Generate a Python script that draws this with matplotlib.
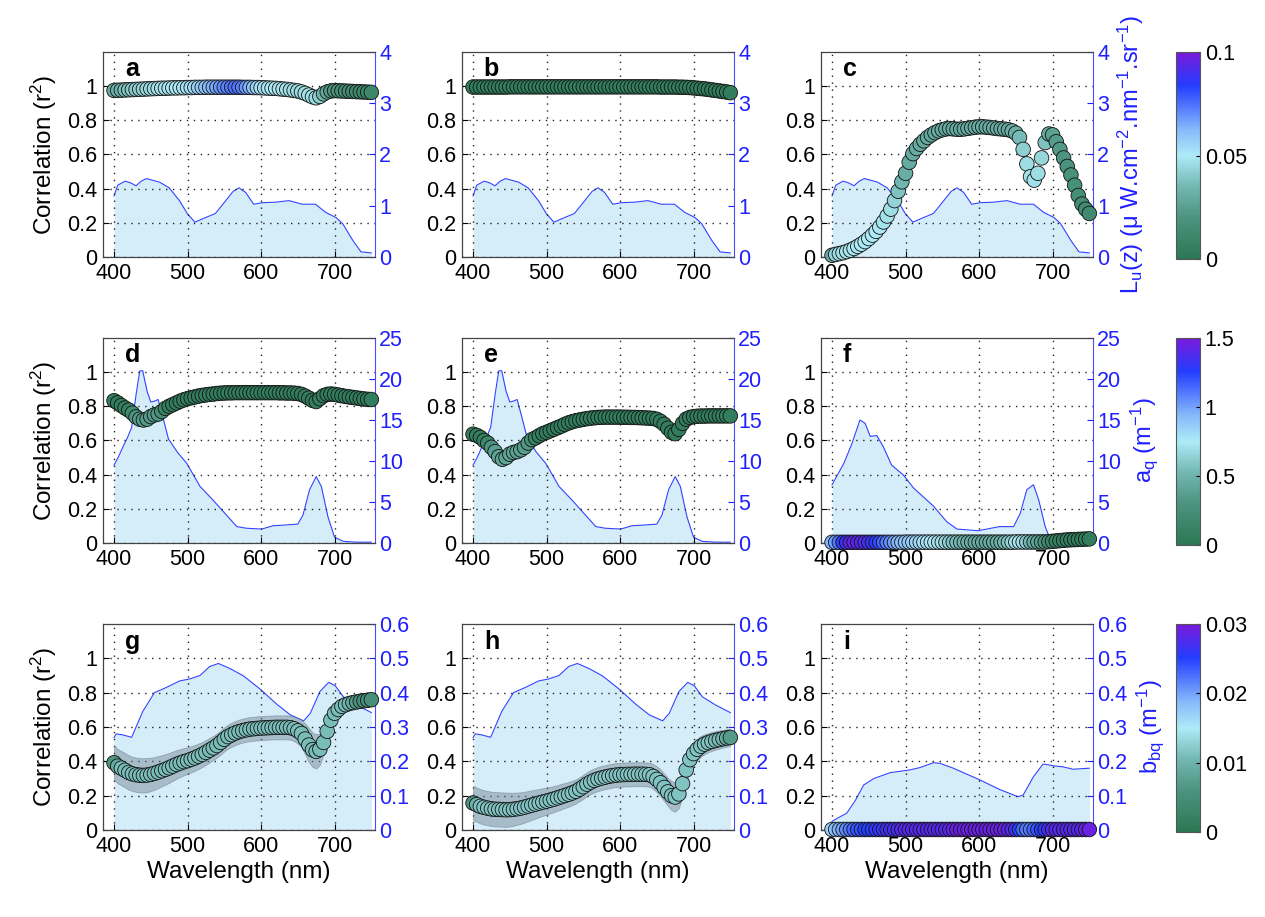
import numpy as np
import matplotlib
matplotlib.use('Agg')
import matplotlib.pyplot as plt
from matplotlib.colors import LinearSegmentedColormap, Normalize
from matplotlib.cm import ScalarMappable

plt.rcParams['font.family'] = ['Liberation Sans', 'DejaVu Sans']
plt.rcParams['mathtext.fontset'] = 'custom'
plt.rcParams['mathtext.rm'] = 'Liberation Sans'
plt.rcParams['mathtext.it'] = 'Liberation Sans'

# wavelength grid of the correlation points (nm)
wl = np.arange(400, 751, 5)

# ---- correlation (r2) per panel, 400..750 nm every 5 nm ----
r2_a = [0.975, 0.976, 0.977, 0.978, 0.979, 0.980, 0.981, 0.982, 0.983, 0.984,
        0.985, 0.986, 0.987, 0.988, 0.988, 0.989, 0.990, 0.990, 0.991, 0.991,
        0.992, 0.992, 0.993, 0.993, 0.993, 0.994, 0.994, 0.994, 0.994, 0.994,
        0.994, 0.994, 0.994, 0.994, 0.994, 0.993, 0.993, 0.993, 0.992, 0.992,
        0.991, 0.990, 0.989, 0.988, 0.987, 0.985, 0.983, 0.981, 0.978, 0.975,
        0.972, 0.966, 0.958, 0.948, 0.938, 0.932, 0.940, 0.955, 0.966, 0.972,
        0.974, 0.973, 0.972, 0.971, 0.970, 0.969, 0.968, 0.967, 0.966, 0.965,
        0.964]
r2_b = [0.995, 0.995, 0.995, 0.995, 0.995, 0.995, 0.995, 0.995, 0.995, 0.995,
        0.996, 0.996, 0.996, 0.996, 0.996, 0.996, 0.996, 0.996, 0.996, 0.996,
        0.996, 0.996, 0.996, 0.996, 0.996, 0.996, 0.996, 0.996, 0.996, 0.996,
        0.996, 0.996, 0.996, 0.996, 0.996, 0.996, 0.996, 0.996, 0.996, 0.996,
        0.996, 0.996, 0.996, 0.996, 0.996, 0.996, 0.996, 0.996, 0.996, 0.996,
        0.996, 0.995, 0.995, 0.995, 0.995, 0.995, 0.994, 0.994, 0.993, 0.992,
        0.990, 0.988, 0.986, 0.984, 0.981, 0.978, 0.975, 0.972, 0.969, 0.966,
        0.962]
r2_c = [0.010, 0.015, 0.020, 0.025, 0.032, 0.040, 0.050, 0.062, 0.075, 0.090,
        0.108, 0.128, 0.150, 0.175, 0.205, 0.240, 0.280, 0.330, 0.385, 0.440,
        0.490, 0.555, 0.605, 0.635, 0.660, 0.680, 0.700, 0.715, 0.728, 0.738,
        0.745, 0.750, 0.752, 0.750, 0.748, 0.748, 0.750, 0.753, 0.757, 0.760,
        0.762, 0.762, 0.760, 0.758, 0.755, 0.752, 0.750, 0.748, 0.745, 0.738,
        0.725, 0.700, 0.630, 0.545, 0.470, 0.450, 0.490, 0.580, 0.670, 0.720,
        0.715, 0.675, 0.630, 0.580, 0.530, 0.480, 0.420, 0.360, 0.310, 0.280,
        0.255]
r2_d = [0.833, 0.820, 0.805, 0.790, 0.778, 0.760, 0.738, 0.725, 0.720, 0.725,
        0.740, 0.750, 0.755, 0.770, 0.788, 0.800, 0.810, 0.820, 0.830, 0.838,
        0.845, 0.850, 0.855, 0.860, 0.864, 0.867, 0.870, 0.872, 0.875, 0.877,
        0.878, 0.879, 0.879, 0.880, 0.880, 0.880, 0.880, 0.880, 0.880, 0.880,
        0.880, 0.880, 0.880, 0.880, 0.880, 0.879, 0.879, 0.878, 0.878, 0.877,
        0.875, 0.870, 0.860, 0.848, 0.835, 0.828, 0.845, 0.862, 0.870, 0.872,
        0.870, 0.866, 0.862, 0.858, 0.855, 0.852, 0.849, 0.846, 0.843, 0.841,
        0.840]
r2_e = [0.637, 0.630, 0.618, 0.600, 0.585, 0.560, 0.535, 0.505, 0.490, 0.500,
        0.520, 0.530, 0.535, 0.545, 0.560, 0.585, 0.605, 0.615, 0.628, 0.640,
        0.648, 0.657, 0.666, 0.675, 0.684, 0.694, 0.703, 0.710, 0.716, 0.720,
        0.724, 0.728, 0.731, 0.733, 0.735, 0.736, 0.737, 0.737, 0.737, 0.737,
        0.737, 0.736, 0.736, 0.735, 0.735, 0.734, 0.733, 0.732, 0.731, 0.729,
        0.724, 0.712, 0.695, 0.672, 0.648, 0.640, 0.665, 0.700, 0.725, 0.735,
        0.740, 0.742, 0.743, 0.743, 0.744, 0.744, 0.744, 0.744, 0.744, 0.744,
        0.744]
r2_f = [0.004, 0.004, 0.004, 0.004, 0.004, 0.004, 0.004, 0.004, 0.004, 0.004,
        0.004, 0.004, 0.004, 0.004, 0.004, 0.004, 0.004, 0.004, 0.004, 0.004,
        0.005, 0.005, 0.005, 0.005, 0.005, 0.005, 0.005, 0.005, 0.005, 0.005,
        0.005, 0.005, 0.005, 0.005, 0.005, 0.005, 0.005, 0.005, 0.005, 0.005,
        0.005, 0.005, 0.005, 0.005, 0.005, 0.005, 0.005, 0.005, 0.005, 0.005,
        0.006, 0.006, 0.006, 0.006, 0.006, 0.006, 0.006, 0.006, 0.006, 0.008,
        0.010, 0.012, 0.014, 0.016, 0.018, 0.019, 0.020, 0.021, 0.022, 0.023,
        0.024]
r2_g = [0.392, 0.372, 0.360, 0.348, 0.335, 0.327, 0.322, 0.319, 0.318, 0.320,
        0.324, 0.330, 0.337, 0.345, 0.353, 0.362, 0.372, 0.382, 0.390, 0.398,
        0.404, 0.412, 0.420, 0.430, 0.440, 0.452, 0.465, 0.478, 0.492, 0.510,
        0.528, 0.544, 0.555, 0.565, 0.573, 0.579, 0.584, 0.588, 0.590, 0.592,
        0.594, 0.595, 0.596, 0.597, 0.598, 0.598, 0.598, 0.598, 0.596, 0.590,
        0.578, 0.562, 0.530, 0.495, 0.468, 0.458, 0.470, 0.510, 0.575, 0.640,
        0.680, 0.702, 0.720, 0.730, 0.737, 0.742, 0.746, 0.750, 0.753, 0.756,
        0.759]
r2_h = [0.157, 0.148, 0.138, 0.132, 0.127, 0.123, 0.121, 0.120, 0.119, 0.118,
        0.119, 0.121, 0.124, 0.128, 0.133, 0.139, 0.145, 0.151, 0.157, 0.163,
        0.168, 0.174, 0.180, 0.187, 0.194, 0.201, 0.208, 0.216, 0.225, 0.238,
        0.252, 0.267, 0.279, 0.289, 0.297, 0.303, 0.308, 0.313, 0.317, 0.320,
        0.322, 0.323, 0.324, 0.324, 0.325, 0.325, 0.325, 0.324, 0.322, 0.312,
        0.295, 0.275, 0.248, 0.222, 0.200, 0.192, 0.210, 0.270, 0.350, 0.410,
        0.445, 0.470, 0.488, 0.500, 0.509, 0.516, 0.522, 0.527, 0.532, 0.536,
        0.539]
r2_i = [0.003, 0.003, 0.003, 0.003, 0.003, 0.003, 0.003, 0.003, 0.003, 0.003,
        0.003, 0.003, 0.003, 0.003, 0.003, 0.003, 0.003, 0.003, 0.003, 0.003,
        0.003, 0.003, 0.003, 0.003, 0.003, 0.003, 0.003, 0.003, 0.003, 0.003,
        0.003, 0.003, 0.003, 0.003, 0.003, 0.003, 0.003, 0.003, 0.003, 0.003,
        0.003, 0.003, 0.003, 0.003, 0.003, 0.003, 0.003, 0.003, 0.003, 0.003,
        0.003, 0.003, 0.003, 0.003, 0.003, 0.003, 0.003, 0.003, 0.003, 0.003,
        0.003, 0.003, 0.003, 0.003, 0.003, 0.003, 0.003, 0.003, 0.003, 0.003,
        0.003]

# ---- colour value of each point (colorbar units) ----
col_a = [0.030, 0.032, 0.034, 0.036, 0.038, 0.040, 0.041, 0.042, 0.043, 0.044,
         0.045, 0.046, 0.047, 0.048, 0.048, 0.049, 0.049, 0.050, 0.050, 0.051,
         0.052, 0.053, 0.054, 0.056, 0.058, 0.060, 0.062, 0.064, 0.066, 0.068,
         0.070, 0.072, 0.074, 0.075, 0.074, 0.072, 0.068, 0.064, 0.060, 0.056,
         0.053, 0.052, 0.051, 0.050, 0.050, 0.049, 0.048, 0.048, 0.047, 0.046,
         0.045, 0.045, 0.046, 0.047, 0.047, 0.046, 0.042, 0.035, 0.028, 0.022,
         0.020, 0.018, 0.017, 0.016, 0.015, 0.014, 0.013, 0.012, 0.011, 0.010,
         0.010]
col_b = [0.004, 0.004, 0.004, 0.004, 0.004, 0.004, 0.004, 0.004, 0.004, 0.004,
         0.004, 0.004, 0.004, 0.004, 0.004, 0.004, 0.004, 0.004, 0.004, 0.004,
         0.004, 0.004, 0.004, 0.004, 0.004, 0.004, 0.004, 0.004, 0.004, 0.004,
         0.004, 0.004, 0.004, 0.004, 0.004, 0.004, 0.004, 0.004, 0.004, 0.004,
         0.004, 0.004, 0.004, 0.004, 0.004, 0.004, 0.004, 0.004, 0.004, 0.004,
         0.004, 0.004, 0.004, 0.004, 0.004, 0.004, 0.004, 0.004, 0.004, 0.004,
         0.004, 0.004, 0.004, 0.004, 0.004, 0.004, 0.004, 0.004, 0.004, 0.004,
         0.004]
col_c = [0.030, 0.044, 0.046, 0.047, 0.048, 0.048, 0.049, 0.049, 0.050, 0.050,
         0.050, 0.050, 0.050, 0.049, 0.048, 0.047, 0.046, 0.043, 0.038, 0.034,
         0.031, 0.030, 0.030, 0.030, 0.030, 0.029, 0.029, 0.029, 0.029, 0.030,
         0.030, 0.030, 0.030, 0.030, 0.030, 0.030, 0.030, 0.030, 0.030, 0.030,
         0.030, 0.030, 0.030, 0.030, 0.030, 0.030, 0.030, 0.030, 0.030, 0.031,
         0.032, 0.036, 0.042, 0.046, 0.047, 0.047, 0.046, 0.044, 0.038, 0.030,
         0.026, 0.024, 0.022, 0.020, 0.019, 0.018, 0.017, 0.016, 0.015, 0.014,
         0.013]
col_d = [0.06, 0.06, 0.07, 0.08, 0.10, 0.20, 0.30, 0.34, 0.35, 0.35,
         0.35, 0.34, 0.32, 0.25, 0.15, 0.08, 0.06, 0.06, 0.06, 0.06,
         0.06, 0.06, 0.06, 0.06, 0.06, 0.06, 0.06, 0.06, 0.06, 0.06,
         0.06, 0.06, 0.06, 0.06, 0.06, 0.06, 0.06, 0.06, 0.06, 0.06,
         0.06, 0.06, 0.06, 0.06, 0.06, 0.06, 0.06, 0.06, 0.06, 0.06,
         0.06, 0.06, 0.06, 0.06, 0.06, 0.06, 0.06, 0.06, 0.06, 0.06,
         0.06, 0.06, 0.06, 0.06, 0.06, 0.06, 0.06, 0.06, 0.06, 0.06,
         0.06]
col_e = [0.06, 0.06, 0.06, 0.08, 0.15, 0.30, 0.38, 0.40, 0.40, 0.40,
         0.40, 0.40, 0.39, 0.38, 0.36, 0.32, 0.25, 0.12, 0.07, 0.06,
         0.06, 0.06, 0.06, 0.06, 0.06, 0.06, 0.06, 0.06, 0.06, 0.06,
         0.06, 0.06, 0.06, 0.06, 0.06, 0.06, 0.06, 0.06, 0.06, 0.06,
         0.06, 0.06, 0.06, 0.06, 0.06, 0.06, 0.06, 0.06, 0.06, 0.06,
         0.06, 0.06, 0.06, 0.06, 0.06, 0.06, 0.06, 0.06, 0.06, 0.06,
         0.06, 0.06, 0.06, 0.06, 0.06, 0.06, 0.06, 0.06, 0.06, 0.06,
         0.06]
col_f = [0.95, 1.00, 1.10, 1.25, 1.35, 1.40, 1.42, 1.42, 1.40, 1.38,
         1.35, 1.32, 1.28, 1.22, 1.15, 1.10, 1.05, 1.00, 0.95, 0.92,
         0.90, 0.88, 0.86, 0.84, 0.82, 0.80, 0.78, 0.76, 0.74, 0.72,
         0.70, 0.66, 0.62, 0.58, 0.55, 0.52, 0.50, 0.48, 0.47, 0.46,
         0.45, 0.45, 0.44, 0.44, 0.45, 0.46, 0.48, 0.52, 0.58, 0.65,
         0.70, 0.72, 0.70, 0.62, 0.52, 0.45, 0.40, 0.36, 0.30, 0.22,
         0.15, 0.12, 0.10, 0.09, 0.08, 0.07, 0.07, 0.06, 0.06, 0.06,
         0.05]
col_g = [0.006, 0.009, 0.011, 0.011, 0.011, 0.011, 0.011, 0.011, 0.011, 0.011,
         0.011, 0.011, 0.011, 0.011, 0.011, 0.011, 0.011, 0.011, 0.011, 0.011,
         0.011, 0.011, 0.011, 0.011, 0.011, 0.011, 0.011, 0.011, 0.011, 0.011,
         0.011, 0.011, 0.011, 0.011, 0.011, 0.011, 0.011, 0.011, 0.011, 0.011,
         0.011, 0.011, 0.011, 0.011, 0.011, 0.011, 0.011, 0.011, 0.011, 0.011,
         0.011, 0.011, 0.011, 0.011, 0.011, 0.011, 0.011, 0.011, 0.011, 0.011,
         0.011, 0.011, 0.011, 0.011, 0.010, 0.009, 0.007, 0.006, 0.005, 0.005,
         0.005]
col_h = [0.006, 0.010, 0.0115, 0.0115, 0.0115, 0.0115, 0.0115, 0.0115, 0.0115, 0.0115,
         0.0115, 0.0115, 0.0115, 0.0115, 0.0115, 0.0115, 0.0115, 0.0115, 0.0115, 0.0115,
         0.0115, 0.0115, 0.0115, 0.0115, 0.0115, 0.0115, 0.0115, 0.0115, 0.0115, 0.0115,
         0.0115, 0.0115, 0.0115, 0.0115, 0.0115, 0.0115, 0.0115, 0.0115, 0.0115, 0.0115,
         0.0115, 0.0115, 0.0115, 0.0115, 0.0115, 0.0115, 0.0115, 0.0115, 0.0115, 0.0115,
         0.0115, 0.0115, 0.0115, 0.0115, 0.0115, 0.0115, 0.0115, 0.0115, 0.0115, 0.0115,
         0.0115, 0.0115, 0.0115, 0.0115, 0.0115, 0.0115, 0.011, 0.011, 0.010, 0.009,
         0.007]
col_i = [0.017, 0.018, 0.019, 0.020, 0.021, 0.022, 0.023, 0.024, 0.024, 0.025,
         0.025, 0.025, 0.026, 0.026, 0.026, 0.027, 0.027, 0.027, 0.027, 0.028,
         0.028, 0.028, 0.028, 0.028, 0.028, 0.028, 0.028, 0.028, 0.028, 0.028,
         0.028, 0.028, 0.028, 0.029, 0.029, 0.029, 0.029, 0.029, 0.029, 0.029,
         0.029, 0.029, 0.029, 0.029, 0.029, 0.029, 0.029, 0.029, 0.028, 0.028,
         0.027, 0.025, 0.023, 0.022, 0.022, 0.023, 0.024, 0.025, 0.026, 0.027,
         0.028, 0.028, 0.028, 0.028, 0.028, 0.028, 0.028, 0.028, 0.028, 0.029,
         0.029]

# ---- half width of the grey uncertainty band ----
band_d = [0.01, 0.01, 0.01, 0.015, 0.02, 0.03, 0.035, 0.035, 0.035, 0.035,
          0.035, 0.035, 0.03, 0.025, 0.02, 0.015, 0.01, 0.01, 0.01, 0.01,
          0.01, 0.01, 0.01, 0.01, 0.01, 0.01, 0.01, 0.01, 0.01, 0.01,
          0.01, 0.01, 0.01, 0.01, 0.01, 0.01, 0.01, 0.01, 0.01, 0.01,
          0.01, 0.01, 0.01, 0.01, 0.01, 0.01, 0.01, 0.01, 0.01, 0.01,
          0.01, 0.01, 0.01, 0.01, 0.012, 0.012, 0.01, 0.01, 0.01, 0.01,
          0.01, 0.01, 0.01, 0.01, 0.01, 0.01, 0.01, 0.01, 0.01, 0.01,
          0.01]
band_e = [0.012, 0.012, 0.015, 0.02, 0.025, 0.03, 0.035, 0.035, 0.035, 0.035,
          0.035, 0.035, 0.035, 0.035, 0.03, 0.025, 0.02, 0.015, 0.012, 0.012,
          0.012, 0.012, 0.012, 0.012, 0.012, 0.012, 0.012, 0.012, 0.012, 0.012,
          0.012, 0.012, 0.012, 0.012, 0.012, 0.012, 0.012, 0.012, 0.012, 0.012,
          0.012, 0.012, 0.012, 0.012, 0.012, 0.012, 0.012, 0.012, 0.012, 0.012,
          0.012, 0.012, 0.012, 0.014, 0.016, 0.016, 0.014, 0.012, 0.012, 0.012,
          0.012, 0.012, 0.012, 0.012, 0.012, 0.012, 0.012, 0.012, 0.012, 0.012,
          0.012]
band_f = [0.004, 0.004, 0.004, 0.004, 0.004, 0.004, 0.004, 0.004, 0.004, 0.004,
          0.004, 0.004, 0.004, 0.004, 0.004, 0.004, 0.004, 0.004, 0.004, 0.004,
          0.004, 0.004, 0.004, 0.004, 0.004, 0.004, 0.004, 0.004, 0.004, 0.004,
          0.004, 0.004, 0.004, 0.004, 0.004, 0.004, 0.004, 0.004, 0.004, 0.004,
          0.004, 0.004, 0.004, 0.004, 0.004, 0.004, 0.004, 0.004, 0.004, 0.004,
          0.004, 0.004, 0.004, 0.004, 0.004, 0.004, 0.004, 0.005, 0.006, 0.007,
          0.008, 0.009, 0.010, 0.010, 0.010, 0.010, 0.010, 0.010, 0.010, 0.010,
          0.010]
band_g = [0.100, 0.100, 0.100, 0.100, 0.100, 0.100, 0.100, 0.100, 0.100, 0.100,
          0.097, 0.095, 0.093, 0.091, 0.089, 0.087, 0.085, 0.083, 0.081, 0.079,
          0.077, 0.076, 0.075, 0.074, 0.073, 0.072, 0.071, 0.070, 0.070, 0.070,
          0.070, 0.070, 0.070, 0.070, 0.070, 0.070, 0.070, 0.070, 0.070, 0.070,
          0.070, 0.070, 0.070, 0.070, 0.070, 0.070, 0.070, 0.070, 0.070, 0.072,
          0.075, 0.080, 0.090, 0.100, 0.100, 0.100, 0.090, 0.070, 0.050, 0.040,
          0.035, 0.030, 0.025, 0.020, 0.020, 0.018, 0.016, 0.015, 0.014, 0.013,
          0.012]
band_h = [0.100, 0.100, 0.100, 0.100, 0.100, 0.100, 0.100, 0.100, 0.100, 0.100,
          0.098, 0.096, 0.094, 0.092, 0.090, 0.088, 0.086, 0.084, 0.082, 0.080,
          0.078, 0.077, 0.076, 0.075, 0.074, 0.073, 0.072, 0.071, 0.070, 0.070,
          0.070, 0.070, 0.070, 0.070, 0.070, 0.070, 0.070, 0.070, 0.070, 0.070,
          0.070, 0.070, 0.070, 0.070, 0.070, 0.070, 0.070, 0.070, 0.070, 0.072,
          0.075, 0.078, 0.080, 0.082, 0.085, 0.085, 0.082, 0.078, 0.074, 0.070,
          0.066, 0.062, 0.060, 0.058, 0.056, 0.055, 0.054, 0.053, 0.052, 0.051,
          0.050]

# ---- spectra on the right-hand axes ----
wl_lu = [400, 405, 415, 422, 430, 437, 444, 452, 462, 475, 489, 500, 510, 523, 538,
         552, 562, 570, 579, 590, 602, 620, 638, 656, 674, 688, 702, 711, 725, 736, 750]
lu = [1.19, 1.40, 1.48, 1.45, 1.39, 1.48, 1.53, 1.50, 1.46, 1.35, 1.10, 0.84, 0.68, 0.76, 0.85,
      1.10, 1.28, 1.35, 1.26, 1.03, 1.06, 1.07, 1.10, 1.03, 1.03, 0.87, 0.77, 0.65, 0.32, 0.10, 0.08]

wl_aq = [400, 406, 412, 418, 424, 430, 435, 439, 445, 450, 455, 460, 466, 474, 486, 499, 517,
         535, 549, 567, 580, 601, 616, 634, 650, 657, 666, 675, 682, 691, 700, 712, 730, 750]
aq = [9.5, 10.5, 11.7, 12.8, 14.1, 18.1, 21.0, 21.0, 18.5, 17.2, 17.3, 17.5, 15.5, 12.7, 11.1, 9.7, 6.9,
      5.2, 3.8, 2.0, 1.8, 1.7, 2.1, 2.2, 2.3, 3.4, 6.5, 8.1, 6.9, 3.2, 0.7, 0.2, 0.1, 0.1]

wl_aqf = [400, 416, 427, 438, 445, 452, 461, 470, 481, 497, 511, 538, 556, 570, 599, 628,
          647, 656, 665, 674, 681, 690, 697, 706, 750]
aqf = [7.1, 9.7, 12.1, 15.0, 14.6, 13.0, 13.1, 11.7, 9.5, 8.3, 6.7, 4.5, 2.6, 1.7, 1.5, 2.0,
       2.0, 3.6, 6.5, 7.1, 5.3, 2.0, 0.4, 0.1, 0.0]

wl_bb = [400, 403, 412, 424, 439, 455, 471, 489, 503, 517, 530, 542, 558, 576, 599, 621,
         640, 658, 667, 680, 692, 701, 712, 730, 750]
bb = [0.269, 0.280, 0.277, 0.270, 0.345, 0.400, 0.415, 0.434, 0.440, 0.450, 0.476, 0.485, 0.470,
      0.449, 0.410, 0.367, 0.335, 0.318, 0.340, 0.403, 0.430, 0.420, 0.388, 0.364, 0.342]

wl_bbi = [400, 407, 420, 432, 443, 457, 479, 506, 520, 538, 547, 565, 601, 628, 653, 660,
          674, 687, 694, 701, 714, 728, 742, 750]
bbi = [0.025, 0.034, 0.049, 0.087, 0.131, 0.150, 0.167, 0.175, 0.182, 0.196, 0.194, 0.180,
       0.146, 0.118, 0.097, 0.102, 0.155, 0.192, 0.190, 0.187, 0.184, 0.177, 0.179, 0.180]

letters = ['a', 'b', 'c', 'd', 'e', 'f', 'g', 'h', 'i']
r2_all = [r2_a, r2_b, r2_c, r2_d, r2_e, r2_f, r2_g, r2_h, r2_i]
col_all = [col_a, col_b, col_c, col_d, col_e, col_f, col_g, col_h, col_i]
band_all = [None, None, None, band_d, band_e, band_f, band_g, band_h, None]
spec_all = [(wl_lu, lu), (wl_lu, lu), (wl_lu, lu),
            (wl_aq, aq), (wl_aq, aq), (wl_aqf, aqf),
            (wl_bb, bb), (wl_bb, bb), (wl_bbi, bbi)]

row_right_lim = [4, 25, 0.6]
row_right_ticks = [[0, 1, 2, 3, 4], [0, 5, 10, 15, 20, 25], [0, 0.1, 0.2, 0.3, 0.4, 0.5, 0.6]]
row_right_labels = [['0', '1', '2', '3', '4'], ['0', '5', '10', '15', '20', '25'],
                    ['0', '0.1', '0.2', '0.3', '0.4', '0.5', '0.6']]
row_right_title = [r'L$_u$(z) ($\mu$ W.cm$^{-2}$.nm$^{-1}$.sr$^{-1}$)',
                   r'a$_q$ (m$^{-1}$)', r'b$_{bq}$ (m$^{-1}$)']
cbar_max = [0.1, 1.5, 0.03]
cbar_ticks = [[0, 0.05, 0.1], [0, 0.5, 1, 1.5], [0, 0.01, 0.02, 0.03]]
cbar_labels = [['0', '0.05', '0.1'], ['0', '0.5', '1', '1.5'], ['0', '0.01', '0.02', '0.03']]

cmap = LinearSegmentedColormap.from_list('gcb', [
    (0.00, (0.17, 0.47, 0.33)),
    (0.20, (0.30, 0.58, 0.50)),
    (0.35, (0.45, 0.72, 0.70)),
    (0.50, (0.68, 0.92, 0.97)),
    (0.63, (0.52, 0.72, 0.98)),
    (0.76, (0.28, 0.42, 1.00)),
    (0.84, (0.14, 0.24, 1.00)),
    (1.00, (0.48, 0.10, 0.86))])

W, H = 1265, 917
fig = plt.figure(figsize=(W / 100, H / 100), dpi=100)

col_x = [103, 462, 821]
row_y = [(52, 257), (338, 543), (624, 830)]
ax_w = 272
blue = '#1f1fff'

for k in range(9):
    r, c = divmod(k, 3)
    top, bot = row_y[r]
    rect = [col_x[c] / W, 1 - bot / H, ax_w / W, (bot - top) / H]
    ax = fig.add_axes(rect)
    ax2 = ax.twinx()
    ax.set_zorder(ax2.get_zorder() + 1)
    ax.patch.set_visible(False)

    # spectrum
    sw, sv = spec_all[k]
    ax2.fill_between(sw, 0, sv, color='#d5ecf9', lw=0)
    ax2.plot(sw, sv, color='#3344ff', lw=0.8)
    ax2.set_ylim(0, row_right_lim[r])
    ax2.set_yticks(row_right_ticks[r])
    ax2.set_yticklabels(row_right_labels[r])
    ax2.tick_params(axis='y', colors=blue, labelcolor=blue, labelsize=15.5,
                    direction='in', length=4, width=0.8, pad=3)
    for s in ['top', 'left', 'bottom']:
        ax2.spines[s].set_visible(False)
    ax2.spines['right'].set_color('#4a4aff')
    ax2.spines['right'].set_linewidth(0.8)
    if c == 2:
        ax2.set_ylabel(row_right_title[r], color=blue, fontsize=17, labelpad=5)

    # correlation points
    r2v = np.array(r2_all[k])
    if band_all[k] is not None:
        bw = np.array(band_all[k])
        ax.fill_between(wl, r2v - bw, r2v + bw, color='#6f8290', alpha=0.45,
                        edgecolor='#5a6a75', lw=0.6, zorder=2)
    norm = Normalize(0, cbar_max[r])
    ax.scatter(wl, r2v, c=col_all[k], cmap=cmap, norm=norm, s=110,
               edgecolors='#111111', linewidths=0.6, zorder=3, clip_on=False)

    ax.set_xlim(385, 755)
    ax.set_ylim(0, 1.2)
    ax.set_xticks([400, 500, 600, 700])
    ax.set_yticks([0, 0.2, 0.4, 0.6, 0.8, 1.0])
    ax.set_yticklabels(['0', '0.2', '0.4', '0.6', '0.8', '1'])
    ax.tick_params(labelsize=15.5, direction='in', length=4, width=0.8, pad=4)
    ax.tick_params(axis='x', pad=4)
    ax.grid(True, color='#222222', linestyle=(0, (1, 4)), lw=1.0)
    for s in ['left', 'top', 'bottom']:
        ax.spines[s].set_color('#444444')
        ax.spines[s].set_linewidth(0.9)
    ax.spines['right'].set_visible(False)

    ax.text(0.08, 0.915, letters[k], transform=ax.transAxes, fontsize=18,
            fontweight='bold', va='center', ha='left', zorder=5)

    if c == 0:
        ax.set_ylabel('Correlation (r$^2$)', fontsize=17.5, labelpad=6)
    if r == 2:
        ax.set_xlabel('Wavelength (nm)', fontsize=17.5, labelpad=3)

# colour bars
for r in range(3):
    top, bot = row_y[r]
    cax = fig.add_axes([1176 / W, 1 - (bot + 2) / H, 24 / W, (bot + 2 - top) / H])
    sm = ScalarMappable(norm=Normalize(0, cbar_max[r]), cmap=cmap)
    cb = fig.colorbar(sm, cax=cax, ticks=cbar_ticks[r])
    cb.ax.set_yticklabels(cbar_labels[r])
    cb.ax.tick_params(labelsize=15.5, direction='in', length=3, width=0.8)
    cb.outline.set_edgecolor('#555555')
    cb.outline.set_linewidth(0.8)

fig.savefig('out.png', dpi=100)
